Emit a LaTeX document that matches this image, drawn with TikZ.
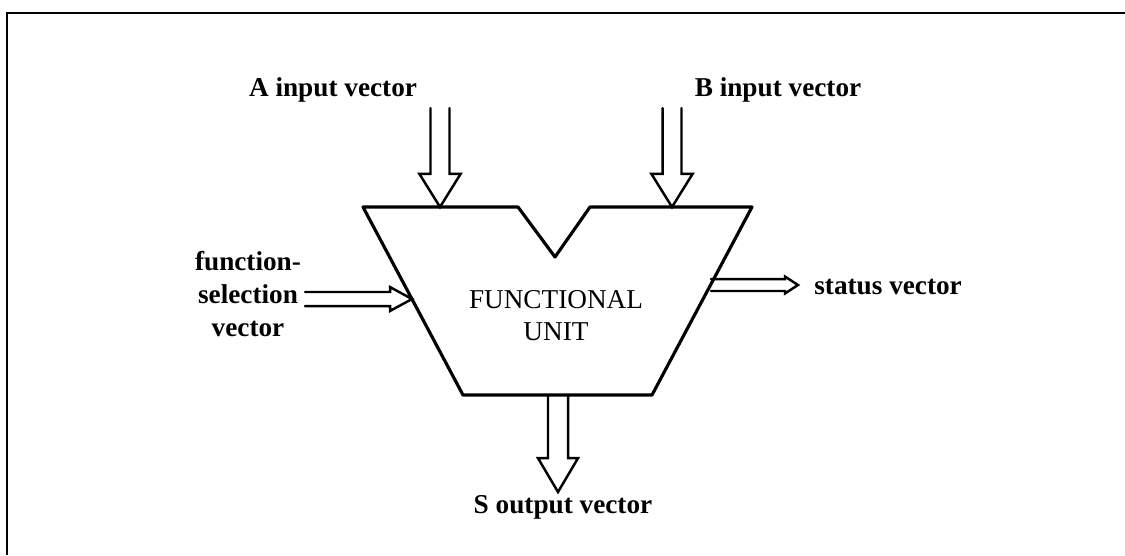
\documentclass[tikz,border=0pt]{standalone}
\usepackage{fontspec}
\setmainfont{Liberation Serif}
\usetikzlibrary{calc}

\begin{document}
\begin{tikzpicture}[x=0.02cm, y=-0.02cm,
  vlabel/.style={font=\fontsize{15.5}{19}\selectfont\bfseries, inner sep=0pt},
  unitbox/.style={line width=1.8pt, line join=round},
  bus arrow/.style n args={3}{line width=1.4pt, line cap=round,
    to path={let \p1=(\tikztostart), \p2=(\tikztotarget),
      \n1={atan2(\y2-\y1,\x2-\x1)}, \n2={veclen(\x2-\x1,\y2-\y1)} in
      (\p1) ++(\n1+90:#1) -- ++(\n1:\n2-#3) -- ++(\n1+90:#2-#1) -- (\p2)
      -- ($(\p2)+(\n1+180:#3)+(\n1-90:#2)$) -- ++(\n1+90:#2-#1)
      -- ++(\n1+180:\n2-#3)}}]

\useasboundingbox (0,0) rectangle (1125,555);

% frame
\draw[line width=1.3pt] (7,555) -- (7,13) -- (1125,13);

% functional unit
\coordinate (tl) at (363,207);
\coordinate (n1) at (518,207);
\coordinate (nb) at (555,257);
\coordinate (n2) at (590,207);
\coordinate (tr) at (752,207);
\coordinate (br) at (652,395);
\coordinate (bl) at (463,395);
\draw[unitbox] (tl) -- (n1) -- (nb) -- (n2) -- (tr) -- (br) -- (bl) -- cycle;
\node (fu) [align=center, inner sep=0pt, font=\fontsize{15.5}{18.2}\selectfont]
  at (556,316) {FUNCTIONAL\\UNIT};

% labels
\node (A) [vlabel, anchor=base] at (333,96) {A input vector};
\node (B) [vlabel, anchor=base] at (778,96) {B input vector};
\node (F) [vlabel, align=center] at (248,294) {function-\\selection\\vector};
\node (St) [vlabel, anchor=base west] at (814,294) {status vector};
\node (S) [vlabel, anchor=base] at (563,513) {S output vector};

% arrow ends
\coordinate (a-top) at (440,108);
\coordinate (a-tip) at (440,207);
\coordinate (b-top) at (672,108);
\coordinate (b-tip) at (672,207);
\coordinate (f-end) at (305,299);
\coordinate (f-tip) at (412,299);
\coordinate (st-end) at (711,285);
\coordinate (st-tip) at (798,285);
\coordinate (s-end) at (558,395);
\coordinate (s-tip) at (558,492);

% arrows
\draw[bus arrow={5.4pt}{11.7pt}{18.8pt}] (a-top) to (a-tip);
\draw[bus arrow={5.4pt}{11.7pt}{18.8pt}] (b-top) to (b-tip);
\draw[bus arrow={4pt}{6.8pt}{12.5pt}] (f-end) to (f-tip);
\draw[bus arrow={3.4pt}{4.8pt}{7.4pt}] (st-end) to (st-tip);
\draw[bus arrow={5.7pt}{11.4pt}{19.3pt}] (s-end) to (s-tip);

\end{tikzpicture}
\end{document}
